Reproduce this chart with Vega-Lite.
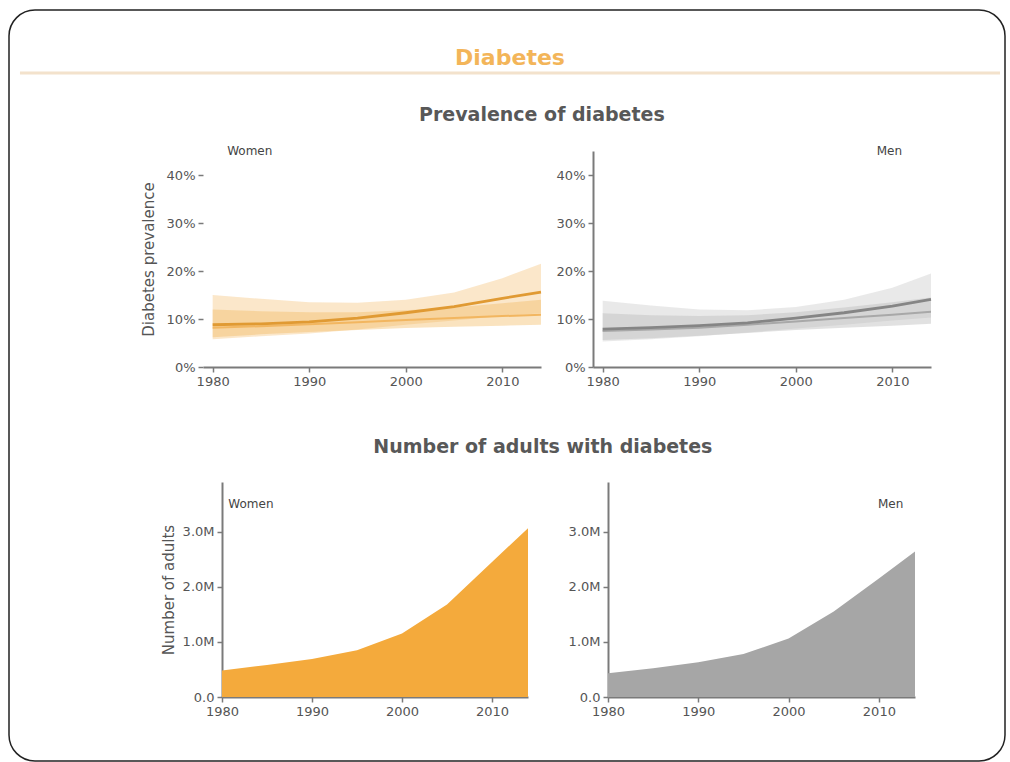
{
  "$schema": "https://vega.github.io/schema/vega-lite/v6.json",
  "background": "white",
  "width": 996,
  "height": 751,
  "padding": {"left": 9, "top": 10, "right": 5, "bottom": 1},
  "autosize": {"type": "pad"},
  "datasets": {
    "prevWomen": [
      {"year": 1980, "a": 8.8, "a_lo": 5.8, "a_hi": 15.0, "b": 8.2, "b_lo": 6.2, "b_hi": 12.0},
      {"year": 1985, "a": 9.0, "a_lo": 6.4, "a_hi": 14.2, "b": 8.5, "b_lo": 6.8, "b_hi": 11.6},
      {"year": 1990, "a": 9.4, "a_lo": 7.0, "a_hi": 13.5, "b": 8.9, "b_lo": 7.3, "b_hi": 11.4},
      {"year": 1995, "a": 10.2, "a_lo": 7.8, "a_hi": 13.4, "b": 9.3, "b_lo": 7.7, "b_hi": 11.4},
      {"year": 2000, "a": 11.3, "a_lo": 8.8, "a_hi": 14.0, "b": 9.8, "b_lo": 8.1, "b_hi": 11.8},
      {"year": 2005, "a": 12.6, "a_lo": 9.7, "a_hi": 15.5, "b": 10.2, "b_lo": 8.4, "b_hi": 12.4},
      {"year": 2010, "a": 14.3, "a_lo": 10.6, "a_hi": 18.5, "b": 10.6, "b_lo": 8.6, "b_hi": 13.3},
      {"year": 2014, "a": 15.6, "a_lo": 11.2, "a_hi": 21.5, "b": 10.9, "b_lo": 8.8, "b_hi": 14.0}
    ],
    "prevMen": [
      {"year": 1980, "a": 7.9, "a_lo": 5.3, "a_hi": 13.8, "b": 7.5, "b_lo": 5.6, "b_hi": 11.2},
      {"year": 1985, "a": 8.2, "a_lo": 5.8, "a_hi": 12.8, "b": 7.8, "b_lo": 6.0, "b_hi": 10.8},
      {"year": 1990, "a": 8.6, "a_lo": 6.4, "a_hi": 12.0, "b": 8.2, "b_lo": 6.5, "b_hi": 10.6},
      {"year": 1995, "a": 9.2, "a_lo": 7.2, "a_hi": 11.8, "b": 8.8, "b_lo": 7.1, "b_hi": 10.8},
      {"year": 2000, "a": 10.2, "a_lo": 8.0, "a_hi": 12.5, "b": 9.5, "b_lo": 7.7, "b_hi": 11.4},
      {"year": 2005, "a": 11.3, "a_lo": 8.8, "a_hi": 14.0, "b": 10.2, "b_lo": 8.2, "b_hi": 12.4},
      {"year": 2010, "a": 12.7, "a_lo": 9.7, "a_hi": 16.5, "b": 10.9, "b_lo": 8.6, "b_hi": 13.5},
      {"year": 2014, "a": 14.1, "a_lo": 10.3, "a_hi": 19.5, "b": 11.5, "b_lo": 9.0, "b_hi": 14.5}
    ],
    "numWomen": [
      {"year": 1980, "n": 0.48},
      {"year": 1985, "n": 0.58},
      {"year": 1990, "n": 0.69},
      {"year": 1995, "n": 0.85},
      {"year": 2000, "n": 1.15},
      {"year": 2005, "n": 1.68},
      {"year": 2010, "n": 2.45},
      {"year": 2014, "n": 3.06}
    ],
    "numMen": [
      {"year": 1980, "n": 0.43},
      {"year": 1985, "n": 0.52},
      {"year": 1990, "n": 0.63},
      {"year": 1995, "n": 0.78},
      {"year": 2000, "n": 1.06},
      {"year": 2005, "n": 1.55},
      {"year": 2010, "n": 2.15},
      {"year": 2014, "n": 2.64}
    ],
    "labelWomen": [{"label": "Women"}],
    "labelMen": [{"label": "Men"}],
    "titles": [
      {"text": "Diabetes"},
      {"text": "Prevalence of diabetes"},
      {"text": "Number of adults with diabetes"}
    ],
    "one": [{}]
  },
  "resolve": {
    "scale": {"x": "independent", "y": "independent"},
    "axis": {"x": "independent", "y": "independent"}
  },
  "layer": [
    {
      "layer": [
        {
          "data": {"name": "one"},
          "mark": {"type": "rule", "color": "#f3e2cc", "strokeWidth": 3},
          "encoding": {
            "x": {"datum": 0.011, "type": "quantitative", "scale": {"domain": [0, 1], "nice": false}, "axis": null},
            "x2": {"datum": 0.995},
            "y": {"datum": 0.0839, "type": "quantitative", "scale": {"domain": [0, 1], "reverse": true, "nice": false}, "axis": null}
          }
        },
        {
          "data": {"name": "titles"},
          "transform": [{"filter": "datum.text == 'Diabetes'"}],
          "mark": {"type": "text", "fontSize": 22, "fontWeight": "bold", "color": "#f3b559", "baseline": "middle", "align": "center"},
          "encoding": {
            "x": {"datum": 0.503, "type": "quantitative"},
            "y": {"datum": 0.064, "type": "quantitative"},
            "text": {"field": "text"}
          }
        },
        {
          "data": {"name": "titles"},
          "transform": [{"filter": "datum.text == 'Prevalence of diabetes'"}],
          "mark": {"type": "text", "fontSize": 19, "fontWeight": "bold", "color": "#585858", "baseline": "middle", "align": "center"},
          "encoding": {
            "x": {"datum": 0.535, "type": "quantitative"},
            "y": {"datum": 0.140, "type": "quantitative"},
            "text": {"field": "text"}
          }
        },
        {
          "data": {"name": "titles"},
          "transform": [{"filter": "datum.text == 'Number of adults with diabetes'"}],
          "mark": {"type": "text", "fontSize": 19, "fontWeight": "bold", "color": "#585858", "baseline": "middle", "align": "center"},
          "encoding": {
            "x": {"datum": 0.536, "type": "quantitative"},
            "y": {"datum": 0.582, "type": "quantitative"},
            "text": {"field": "text"}
          }
        }
      ]
    },
    {
      "layer": [
        {
          "data": {"name": "prevWomen"},
          "mark": {"type": "area", "color": "#f6c27a", "opacity": 0.4},
          "encoding": {
            "x": {"field": "year", "type": "quantitative", "scale": {"domain": [1979, 2014], "range": [194, 532], "nice": false}, "axis": {"orient": "bottom", "offset": -394, "values": [1980, 1990, 2000, 2010], "format": "d", "title": null}},
            "y": {"field": "a_lo", "type": "quantitative", "scale": {"domain": [0, 45], "range": [357, 141], "nice": false}, "axis": {"orient": "left", "offset": -194, "values": [0, 10, 20, 30, 40], "labelExpr": "datum.value + '%'", "title": "Diabetes prevalence", "domain": false, "titlePadding": 10}},
            "y2": {"field": "a_hi"}
          }
        },
        {
          "data": {"name": "prevWomen"},
          "mark": {"type": "area", "color": "#f3b95f", "opacity": 0.4},
          "encoding": {
            "x": {"field": "year", "type": "quantitative"},
            "y": {"field": "b_lo", "type": "quantitative"},
            "y2": {"field": "b_hi"}
          }
        },
        {
          "data": {"name": "prevWomen"},
          "mark": {"type": "line", "color": "#f2b660", "strokeWidth": 2},
          "encoding": {
            "x": {"field": "year", "type": "quantitative"},
            "y": {"field": "b", "type": "quantitative"}
          }
        },
        {
          "data": {"name": "prevWomen"},
          "mark": {"type": "line", "color": "#e09a33", "strokeWidth": 2.8},
          "encoding": {
            "x": {"field": "year", "type": "quantitative"},
            "y": {"field": "a", "type": "quantitative"}
          }
        },
        {
          "data": {"name": "labelWomen"},
          "mark": {"type": "text", "align": "left", "baseline": "middle", "fontSize": 12, "color": "#444444"},
          "encoding": {
            "x": {"datum": 1981.5, "type": "quantitative"},
            "y": {"datum": 45, "type": "quantitative"},
            "text": {"field": "label"}
          }
        }
      ]
    },
    {
      "layer": [
        {
          "data": {"name": "prevMen"},
          "mark": {"type": "area", "color": "#cfcfcf", "opacity": 0.45},
          "encoding": {
            "x": {"field": "year", "type": "quantitative", "scale": {"domain": [1979, 2014], "range": [584, 922], "nice": false}, "axis": {"orient": "bottom", "offset": -394, "values": [1980, 1990, 2000, 2010], "format": "d", "title": null}},
            "y": {"field": "a_lo", "type": "quantitative", "scale": {"domain": [0, 45], "range": [357, 141], "nice": false}, "axis": {"orient": "left", "offset": -584, "values": [0, 10, 20, 30, 40], "labelExpr": "datum.value + '%'", "title": null}},
            "y2": {"field": "a_hi"}
          }
        },
        {
          "data": {"name": "prevMen"},
          "mark": {"type": "area", "color": "#bdbdbd", "opacity": 0.45},
          "encoding": {
            "x": {"field": "year", "type": "quantitative"},
            "y": {"field": "b_lo", "type": "quantitative"},
            "y2": {"field": "b_hi"}
          }
        },
        {
          "data": {"name": "prevMen"},
          "mark": {"type": "line", "color": "#a8a8a8", "strokeWidth": 2},
          "encoding": {
            "x": {"field": "year", "type": "quantitative"},
            "y": {"field": "b", "type": "quantitative"}
          }
        },
        {
          "data": {"name": "prevMen"},
          "mark": {"type": "line", "color": "#858585", "strokeWidth": 2.8},
          "encoding": {
            "x": {"field": "year", "type": "quantitative"},
            "y": {"field": "a", "type": "quantitative"}
          }
        },
        {
          "data": {"name": "labelMen"},
          "mark": {"type": "text", "align": "right", "baseline": "middle", "fontSize": 12, "color": "#444444"},
          "encoding": {
            "x": {"datum": 2011, "type": "quantitative"},
            "y": {"datum": 45, "type": "quantitative"},
            "text": {"field": "label"}
          }
        }
      ]
    },
    {
      "layer": [
        {
          "data": {"name": "numWomen"},
          "mark": {"type": "area", "color": "#f4aa3c"},
          "encoding": {
            "x": {"field": "year", "type": "quantitative", "scale": {"domain": [1980, 2014], "range": [213, 519], "nice": false}, "axis": {"orient": "bottom", "offset": -64, "values": [1980, 1990, 2000, 2010], "format": "d", "title": null}},
            "y": {"field": "n", "type": "quantitative", "scale": {"domain": [0, 3.9], "range": [687, 472], "nice": false}, "axis": {"orient": "left", "offset": -213, "values": [0, 1, 2, 3], "labelExpr": "datum.value == 0 ? '0.0' : format(datum.value, '.1f') + 'M'", "title": "Number of adults", "titlePadding": 6}}
          }
        },
        {
          "data": {"name": "labelWomen"},
          "mark": {"type": "text", "align": "left", "baseline": "middle", "fontSize": 12, "color": "#444444"},
          "encoding": {
            "x": {"datum": 1980.7, "type": "quantitative"},
            "y": {"datum": 3.5, "type": "quantitative"},
            "text": {"field": "label"}
          }
        }
      ]
    },
    {
      "layer": [
        {
          "data": {"name": "numMen"},
          "mark": {"type": "area", "color": "#a6a6a6"},
          "encoding": {
            "x": {"field": "year", "type": "quantitative", "scale": {"domain": [1980, 2014], "range": [599, 906], "nice": false}, "axis": {"orient": "bottom", "offset": -64, "values": [1980, 1990, 2000, 2010], "format": "d", "title": null}},
            "y": {"field": "n", "type": "quantitative", "scale": {"domain": [0, 3.9], "range": [687, 472], "nice": false}, "axis": {"orient": "left", "offset": -599, "values": [0, 1, 2, 3], "labelExpr": "datum.value == 0 ? '0.0' : format(datum.value, '.1f') + 'M'", "title": null}}
          }
        },
        {
          "data": {"name": "labelMen"},
          "mark": {"type": "text", "align": "right", "baseline": "middle", "fontSize": 12, "color": "#444444"},
          "encoding": {
            "x": {"datum": 2012.7, "type": "quantitative"},
            "y": {"datum": 3.5, "type": "quantitative"},
            "text": {"field": "label"}
          }
        }
      ]
    }
  ],
  "config": {
    "font": "DejaVu Sans",
    "view": {"stroke": "#222222", "strokeWidth": 1.5, "cornerRadius": 26},
    "axis": {
      "grid": false,
      "labelFont": "DejaVu Sans",
      "labelFontSize": 13,
      "labelColor": "#555555",
      "labelFlush": false,
      "domainColor": "#7a7a7a",
      "domainWidth": 2,
      "tickColor": "#7a7a7a",
      "tickSize": 5,
      "tickWidth": 1.5,
      "labelPadding": 3,
      "titleFont": "DejaVu Sans",
      "titleFontSize": 15,
      "titleFontWeight": "normal",
      "titleColor": "#555555"
    }
  }
}
